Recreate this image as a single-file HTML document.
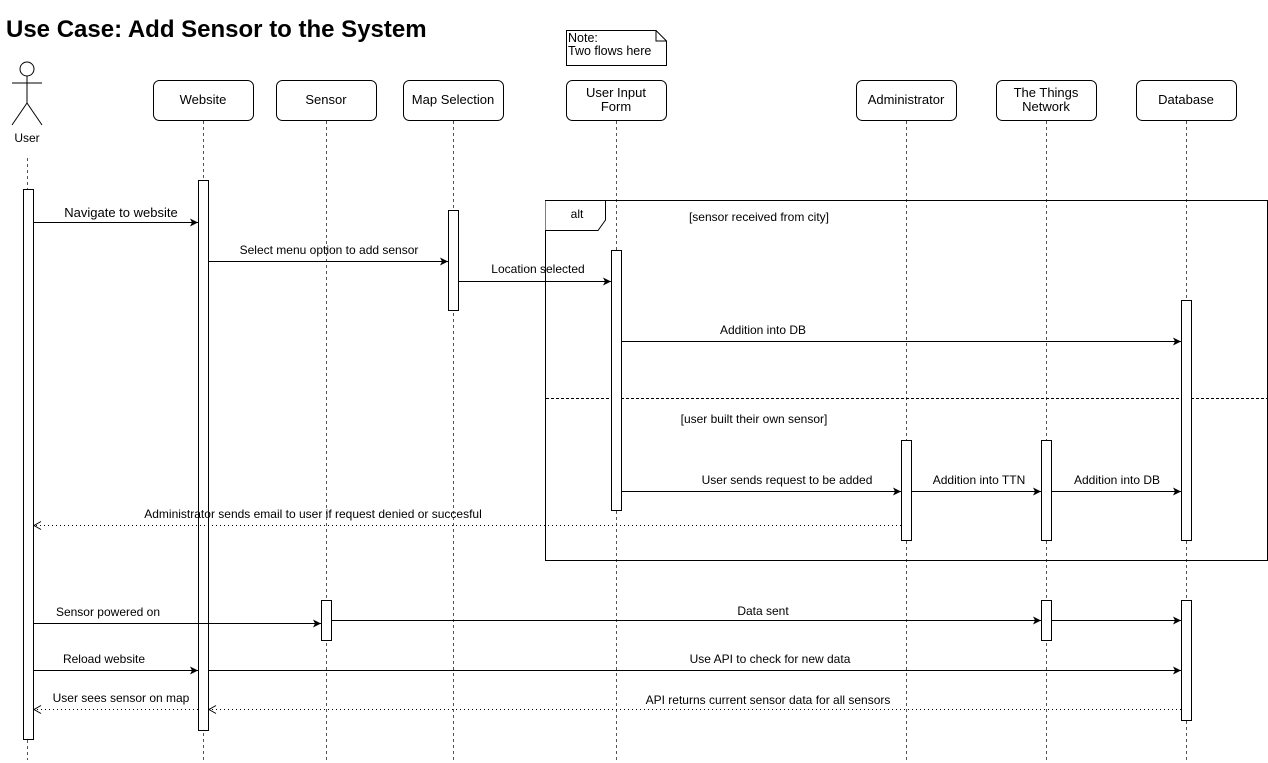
<!DOCTYPE html>
<html><head><meta charset="utf-8"><style>
html,body{margin:0;padding:0;background:#fff;}
svg{display:block;font-family:"Liberation Sans",sans-serif;}
</style></head><body>
<svg width="1268" height="763" viewBox="0 0 1268 763" xmlns="http://www.w3.org/2000/svg">
<defs>
<marker id="a" markerWidth="10" markerHeight="10" refX="9" refY="5" orient="auto" markerUnits="userSpaceOnUse">
<path d="M1,1 L9,5 L1,9 L3,5 Z" fill="#000"/></marker>
<marker id="o" markerWidth="10" markerHeight="10" refX="9" refY="5" orient="auto" markerUnits="userSpaceOnUse">
<path d="M2,1 L9,5 L2,9" fill="none" stroke="#000"/></marker>
</defs>
<text x="6" y="37" font-size="24" font-weight="bold">Use Case: Add Sensor to the System</text>
<path d="M566.5,30.5 H656 L666.5,41 V65.5 H566.5 Z M656,30.5 V41 H666.5" fill="#fff" stroke="#000"/>
<text x="568" y="42" font-size="12.5">Note:</text>
<text x="568" y="55" font-size="12.5">Two flows here</text>
<g stroke="#555" stroke-dasharray="3,3" fill="none">
<line x1="27.5" y1="158" x2="27.5" y2="760"/>
<line x1="203.5" y1="121" x2="203.5" y2="760"/>
<line x1="326.5" y1="121" x2="326.5" y2="760"/>
<line x1="453.5" y1="121" x2="453.5" y2="760"/>
<line x1="616.5" y1="121" x2="616.5" y2="760"/>
<line x1="906.5" y1="121" x2="906.5" y2="760"/>
<line x1="1046.5" y1="121" x2="1046.5" y2="760"/>
<line x1="1186.5" y1="121" x2="1186.5" y2="760"/>
</g>
<g stroke="#000" fill="none">
<circle cx="27" cy="69" r="7" fill="#fff"/>
<line x1="27" y1="76" x2="27" y2="103"/>
<line x1="12" y1="83" x2="42" y2="83"/>
<line x1="27" y1="103" x2="12" y2="125"/>
<line x1="27" y1="103" x2="42" y2="125"/>
</g>
<text x="27" y="142" font-size="12" text-anchor="middle">User</text>
<g stroke="#000" fill="#fff">
<rect x="153.5" y="80.5" width="100" height="40" rx="6"/>
<rect x="276.5" y="80.5" width="100" height="40" rx="6"/>
<rect x="403.5" y="80.5" width="100" height="40" rx="6"/>
<rect x="566.5" y="80.5" width="100" height="40" rx="6"/>
<rect x="856.5" y="80.5" width="100" height="40" rx="6"/>
<rect x="996.5" y="80.5" width="100" height="40" rx="6"/>
<rect x="1136.5" y="80.5" width="100" height="40" rx="6"/>
</g>
<g font-size="13" text-anchor="middle">
<text x="203" y="104">Website</text>
<text x="326" y="104">Sensor</text>
<text x="453" y="104">Map Selection</text>
<text x="616" y="97">User Input</text>
<text x="616" y="111">Form</text>
<text x="906" y="104">Administrator</text>
<text x="1046" y="97">The Things</text>
<text x="1046" y="111">Network</text>
<text x="1186" y="104">Database</text>
</g>
<rect x="545.5" y="200.5" width="722" height="360" fill="none" stroke="#000"/>
<path d="M545.5,200.5 H605.5 V220 L598,230.5 H545.5" fill="#fff" stroke="#000"/>
<text x="577" y="218" font-size="12" text-anchor="middle">alt</text>
<line x1="546" y1="398.5" x2="1267" y2="398.5" stroke="#000" stroke-dasharray="3,2"/>
<g font-size="12" text-anchor="middle">
<text x="759" y="221">[sensor received from city]</text>
<text x="754" y="423">[user built their own sensor]</text>
</g>
<g stroke="#000" fill="#fff">
<rect x="23.5" y="189.5" width="10" height="550"/>
<rect x="198.5" y="180.5" width="10" height="550"/>
<rect x="448.5" y="210.5" width="10" height="100"/>
<rect x="611.5" y="250.5" width="10" height="260"/>
<rect x="1181.5" y="300.5" width="10" height="240"/>
<rect x="901.5" y="440.5" width="10" height="100"/>
<rect x="1041.5" y="440.5" width="10" height="100"/>
<rect x="321.5" y="600.5" width="10" height="40"/>
<rect x="1041.5" y="600.5" width="10" height="40"/>
<rect x="1181.5" y="600.5" width="10" height="120"/>
</g>
<g stroke="#000" fill="none">
<line x1="34" y1="222.5" x2="198" y2="222.5" marker-end="url(#a)"/>
<line x1="209" y1="261.5" x2="448" y2="261.5" marker-end="url(#a)"/>
<line x1="459" y1="281.5" x2="611" y2="281.5" marker-end="url(#a)"/>
<line x1="622" y1="341.5" x2="1181" y2="341.5" marker-end="url(#a)"/>
<line x1="622" y1="491.5" x2="901" y2="491.5" marker-end="url(#a)"/>
<line x1="912" y1="491.5" x2="1041" y2="491.5" marker-end="url(#a)"/>
<line x1="1052" y1="491.5" x2="1181" y2="491.5" marker-end="url(#a)"/>
<line x1="901" y1="525.5" x2="34" y2="525.5" stroke-dasharray="1,3" marker-end="url(#o)"/>
<line x1="34" y1="623.5" x2="321" y2="623.5" marker-end="url(#a)"/>
<line x1="332" y1="620.5" x2="1041" y2="620.5" marker-end="url(#a)"/>
<line x1="1052" y1="620.5" x2="1181" y2="620.5" marker-end="url(#a)"/>
<line x1="34" y1="670.5" x2="198" y2="670.5" marker-end="url(#a)"/>
<line x1="209" y1="670.5" x2="1181" y2="670.5" marker-end="url(#a)"/>
<line x1="1181" y1="709.5" x2="209" y2="709.5" stroke-dasharray="1,3" marker-end="url(#o)"/>
<line x1="198" y1="709.5" x2="34" y2="709.5" stroke-dasharray="1,3" marker-end="url(#o)"/>
</g>
<g font-size="12" text-anchor="middle">
<text x="121" y="217" font-size="13">Navigate to website</text>
<text x="329" y="254">Select menu option to add sensor</text>
<text x="538" y="273">Location selected</text>
<text x="763" y="334">Addition into DB</text>
<text x="787" y="484">User sends request to be added</text>
<text x="979" y="484">Addition into TTN</text>
<text x="1117" y="484">Addition into DB</text>
<text x="313" y="518">Administrator sends email to user if request denied or succesful</text>
<text x="108" y="616">Sensor powered on</text>
<text x="763" y="615">Data sent</text>
<text x="104" y="663">Reload website</text>
<text x="770" y="663">Use API to check for new data</text>
<text x="768" y="704">API returns current sensor data for all sensors</text>
<text x="121" y="702">User sees sensor on map</text>
</g>
</svg>
</body></html>
